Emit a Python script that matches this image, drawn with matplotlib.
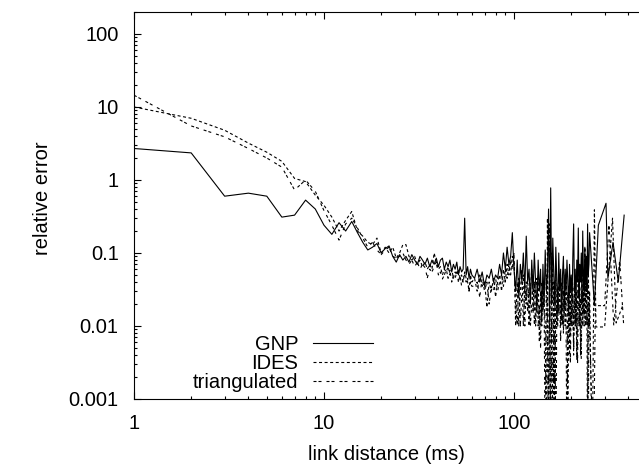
import matplotlib
matplotlib.use("Agg")
import matplotlib.pyplot as plt
from matplotlib.ticker import LogLocator, FixedLocator, NullFormatter

plt.rcParams['font.family'] = ['Liberation Sans', 'DejaVu Sans']

# link distance (ms) sampled by the three methods
x_head = list(range(1, 61)) + list(range(62, 101, 2)) + list(range(102, 251, 2))

gnp_head = [
    2.7, 2.35, 0.6, 0.66, 0.6, 0.31, 0.33, 0.53, 0.4, 0.24,
    0.18, 0.26, 0.2, 0.27, 0.19, 0.14, 0.11, 0.12, 0.135, 0.1,
    0.115, 0.125, 0.09, 0.075, 0.095, 0.08, 0.09, 0.075, 0.095, 0.08,
    0.07, 0.09, 0.08, 0.07, 0.085, 0.065, 0.08, 0.07, 0.085, 0.065,
    0.08, 0.085, 0.06, 0.075, 0.065, 0.08, 0.055, 0.07, 0.06, 0.075,
    0.05, 0.065, 0.055, 0.06, 0.3, 0.05, 0.065, 0.045, 0.06, 0.05,
    # 62..100
    0.045, 0.06, 0.04, 0.055, 0.035, 0.05, 0.045, 0.06, 0.04, 0.05,
    0.045, 0.07, 0.05, 0.1, 0.06, 0.12, 0.07, 0.09, 0.19, 0.06,
    # 102..250
    0.03, 0.08, 0.025, 0.07, 0.04, 0.1, 0.03, 0.17, 0.04, 0.06,
    0.02, 0.08, 0.03, 0.1, 0.04, 0.015, 0.08, 0.03, 0.06, 0.012,
    0.07, 0.02, 0.11, 0.03, 0.05, 0.4, 0.012, 0.78, 0.02, 0.16,
    0.05, 0.02, 0.12, 0.04, 0.015, 0.1, 0.03, 0.06, 0.012, 0.05,
    0.09, 0.02, 0.06, 0.03, 0.08, 0.04, 0.015, 0.07, 0.03, 0.05,
    0.02, 0.09, 0.25, 0.03, 0.06, 0.02, 0.08, 0.04, 0.22, 0.025,
    0.07, 0.04, 0.1, 0.02, 0.2, 0.05, 0.03, 0.12, 0.04, 0.09,
    0.03, 0.25, 0.05, 0.07, 0.19,
]

ides_head = [
    10, 7.0, 4.8, 3.2, 2.4, 1.8, 1.05, 0.95, 0.62, 0.45,
    0.31, 0.2, 0.28, 0.37, 0.2, 0.17, 0.14, 0.13, 0.16, 0.1,
    0.12, 0.1, 0.12, 0.085, 0.1, 0.13, 0.13, 0.09, 0.08, 0.09,
    0.07, 0.08, 0.065, 0.075, 0.06, 0.07, 0.06, 0.1, 0.075, 0.06,
    0.065, 0.05, 0.06, 0.055, 0.065, 0.05, 0.06, 0.045, 0.055, 0.05,
    0.06, 0.045, 0.05, 0.04, 0.055, 0.045, 0.04, 0.03, 0.05, 0.04,
    # 62..100
    0.045, 0.03, 0.05, 0.035, 0.04, 0.018, 0.04, 0.03, 0.045, 0.025,
    0.04, 0.05, 0.03, 0.06, 0.04, 0.07, 0.05, 0.08, 0.06, 0.1,
    # 102..250
    0.01, 0.04, 0.01, 0.03, 0.06, 0.01, 0.035, 0.02, 0.05, 0.01,
    0.03, 0.06, 0.015, 0.04, 0.01, 0.025, 0.05, 0.006, 0.03, 0.01,
    0.04, 0.02, 0.01, 0.0001, 0.3, 0.0001, 0.05, 0.0001, 0.1, 0.0001,
    0.04, 0.0001, 0.06, 0.01, 0.03, 0.015, 0.045, 0.01, 0.025, 0.05,
    0.008, 0.03, 0.01, 0.04, 0.02, 0.0001, 0.035, 0.004, 0.03, 0.01,
    0.045, 0.02, 0.005, 0.04, 0.01, 0.03, 0.0035, 0.025, 0.06, 0.01,
    0.035, 0.004, 0.02, 0.05, 0.01, 0.03, 0.015, 0.12, 0.01, 0.04,
    0.02, 0.0001, 0.09, 0.01, 0.03,
]

tri_head = [
    14.5, 5.5, 3.9, 2.7, 2.0, 1.5, 0.73, 1.0, 0.7, 0.38,
    0.24, 0.15, 0.25, 0.3, 0.22, 0.16, 0.12, 0.14, 0.11, 0.095,
    0.11, 0.12, 0.09, 0.085, 0.09, 0.1, 0.08, 0.07, 0.08, 0.065,
    0.075, 0.06, 0.07, 0.063, 0.046, 0.06, 0.055, 0.065, 0.075, 0.05,
    0.055, 0.044, 0.05, 0.06, 0.045, 0.058, 0.04, 0.05, 0.045, 0.055,
    0.04, 0.05, 0.035, 0.045, 0.05, 0.04, 0.045, 0.03, 0.04, 0.035,
    # 62..100
    0.035, 0.04, 0.025, 0.045, 0.03, 0.04, 0.02, 0.035, 0.03, 0.045,
    0.03, 0.04, 0.05, 0.035, 0.06, 0.045, 0.07, 0.05, 0.09, 0.08,
    # 102..250
    0.02, 0.01, 0.045, 0.01, 0.03, 0.05, 0.01, 0.04, 0.015, 0.035,
    0.01, 0.02, 0.05, 0.01, 0.03, 0.045, 0.01, 0.02, 0.005, 0.04,
    0.015, 0.03, 0.0001, 0.05, 0.01, 0.0001, 0.25, 0.0001, 0.03, 0.08,
    0.0001, 0.04, 0.0001, 0.02, 0.01, 0.05, 0.02, 0.006, 0.04, 0.01,
    0.03, 0.015, 0.05, 0.01, 0.0001, 0.03, 0.01, 0.045, 0.003, 0.02,
    0.01, 0.035, 0.004, 0.02, 0.05, 0.01, 0.03, 0.003, 0.02, 0.04,
    0.01, 0.025, 0.0035, 0.03, 0.015, 0.05, 0.01, 0.035, 0.02, 0.06,
    0.01, 0.04, 0.0001, 0.02, 0.01,
]

# sparse long-distance samples
gnp_tail_x = [265, 278, 305, 312, 332, 354, 380]
gnp_tail_y = [0.019, 0.24, 0.48, 0.045, 0.14, 0.04, 0.33]
ides_tail_x = [258, 265, 270, 300, 330, 345, 376]
ides_tail_y = [0.0001, 0.39, 0.0097, 0.0097, 0.3, 0.011, 0.02]
tri_tail_x = [262, 268, 300, 316, 335, 360, 378]
tri_tail_y = [0.0001, 0.019, 0.019, 0.25, 0.01, 0.08, 0.01]

assert len(gnp_head) == len(x_head) == len(ides_head) == len(tri_head)

fig = plt.figure(figsize=(6.39, 4.71), dpi=100)
ax = fig.add_axes([134 / 639, 72 / 471, 512.8 / 639, 387 / 471])

lw = 0.8
ax.plot(x_head + gnp_tail_x, gnp_head + gnp_tail_y, color='black', lw=lw,
        label='GNP')
ax.plot(x_head + ides_tail_x, ides_head + ides_tail_y, color='black', lw=lw,
        linestyle=(0, (2.7, 2.3)), label='IDES')
ax.plot(x_head + tri_tail_x, tri_head + tri_tail_y, color='black', lw=lw,
        linestyle=(0, (2.7, 1.8, 2.7, 4.5)), label='triangulated')

ax.set_xscale('log')
ax.set_yscale('log')
ax.set_xlim(1, 500)
ax.set_ylim(0.001, 200)

ax.xaxis.set_major_locator(FixedLocator([1, 10, 100]))
ax.xaxis.set_minor_locator(LogLocator(base=10, subs=range(2, 10), numticks=20))
ax.yaxis.set_major_locator(FixedLocator([0.001, 0.01, 0.1, 1, 10, 100]))
ax.yaxis.set_minor_locator(LogLocator(base=10, subs=range(2, 10), numticks=20))
ax.xaxis.set_minor_formatter(NullFormatter())
ax.yaxis.set_minor_formatter(NullFormatter())
ax.set_xticklabels(['1', '10', '100'])
ax.set_yticklabels(['0.001', '0.01', '0.1', '1', '10', '100'])

ax.tick_params(which='both', direction='in', top=True, right=True,
               labelsize=14.5, width=0.8)
ax.tick_params(which='major', length=5)
ax.tick_params(which='minor', length=2.5)
ax.tick_params(axis='x', pad=11)
ax.tick_params(axis='y', pad=11)
for s in ax.spines.values():
    s.set_linewidth(0.8)

fig.text(386 / 639, 1 - 455 / 471, 'link distance (ms)', ha='center',
         va='center', fontsize=14.5)
fig.text(42 / 639, 1 - 198 / 471, 'relative error', ha='center',
         va='center', rotation=90, fontsize=14.5)

ax.legend(loc='lower right', bbox_to_anchor=(373 / 639, 1 - 392 / 471),
          bbox_transform=fig.transFigure, frameon=False, markerfirst=False,
          fontsize=14.5, handlelength=3.0, handletextpad=0.7,
          labelspacing=0.0, borderpad=0, borderaxespad=0)

fig.savefig('out.png', dpi=100)
